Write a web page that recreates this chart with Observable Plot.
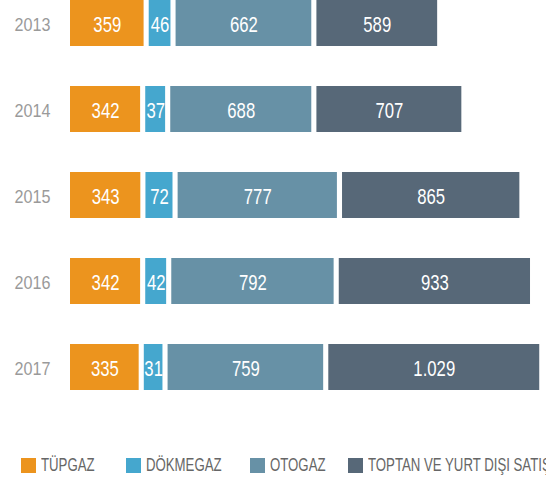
<!DOCTYPE html>
<html>
<head>
<meta charset="utf-8">
<script src="https://cdn.jsdelivr.net/npm/d3@7"></script>
<script src="https://cdn.jsdelivr.net/npm/@observablehq/plot@0.6"></script>
<style>
  html, body { margin: 0; padding: 0; background: #fff; }
  body { width: 546px; height: 481px; overflow: hidden; position: relative;
         font-family: "Liberation Sans", Arial, sans-serif; }
  .item { position: absolute; top: 456px; white-space: nowrap; font-size: 19px; color: #666; height: 20px; }
  .sw { position: absolute; left: 0; top: 2px; width: 15px; height: 15px; }
  .lt { position: absolute; left: 20px; top: -2px; display: inline-block; transform: scaleX(0.695); transform-origin: 0 50%; }
</style>
</head>
<body>
<div id="chart"></div>
<div id="legend"></div>
<script>
const years = ["2013", "2014", "2015", "2016", "2017"];
const categories = ["TÜPGAZ", "DÖKMEGAZ", "OTOGAZ", "TOPTAN VE YURT DIŞI SATIŞ"];
const colors = ["#EC941E", "#45A7CE", "#6791A6", "#576878"];
const tupgaz   = [359, 342, 343, 342, 335];
const dokmegaz = [46, 37, 72, 42, 31];
const otogaz   = [662, 688, 777, 792, 759];
const toptan   = [589, 707, 865, 933, 1029];

const series = [tupgaz, dokmegaz, otogaz, toptan];
const gap = 25;          // visual gap between segments, in value units
const smallPad = 60;     // the original widens the narrow DÖKMEGAZ segment
const fmt = d3.formatLocale({decimal: ",", thousands: ".", grouping: [3], currency: ["", ""]}).format(",d");

const rows = [];
years.forEach((y, i) => {
  let x = 0;
  categories.forEach((c, j) => {
    const v = series[j][i];
    const w = j === 1 ? v + smallPad : v;
    rows.push({year: y, cat: c, value: v, x1: x, x2: x + w});
    x += w + gap;
  });
});

const chart = Plot.plot({
  width: 546,
  height: 430,
  marginLeft: 70,
  marginRight: 0,
  marginTop: 0,
  marginBottom: 0,
  style: {fontFamily: '"Liberation Sans", Arial, sans-serif', background: "#fff"},
  x: {domain: [0, 2322], axis: null},
  y: {domain: years, range: [-2, 391], paddingInner: 0.47, paddingOuter: 0},
  color: {domain: categories, range: colors},
  marks: [
    Plot.barX(rows, {x1: "x1", x2: "x2", y: "year", fill: "cat"}),
    Plot.text(rows, {x: d => (d.x1 + d.x2) / 2, y: "year", text: d => fmt(d.value),
                     fill: "white", fontSize: 22, dy: 1}),
    Plot.axisY({tickSize: 0, tickPadding: 20, label: null, fontSize: 19, color: "#9a9a9a", dy: 1})
  ]
});
document.getElementById("chart").append(chart);

// condense glyphs to mimic the original's condensed typeface
chart.querySelectorAll("text").forEach(t => {
  const g = t.closest("g[aria-label]");
  const isAxis = g && /axis/.test(g.getAttribute("aria-label"));
  const k = isAxis ? 0.85 : 0.76;
  const len = t.getComputedTextLength();
  t.setAttribute("textLength", (len * k).toFixed(2));
  t.setAttribute("lengthAdjust", "spacingAndGlyphs");
});

const legendLeft = [21, 126, 250, 348];
const legend = document.getElementById("legend");
categories.forEach((c, j) => {
  const it = document.createElement("div");
  it.className = "item";
  it.style.left = legendLeft[j] + "px";
  const sw = document.createElement("span");
  sw.className = "sw";
  sw.style.background = colors[j];
  const t = document.createElement("span");
  t.className = "lt";
  t.textContent = c;
  it.append(sw, t);
  legend.append(it);
});
</script>
</body>
</html>
